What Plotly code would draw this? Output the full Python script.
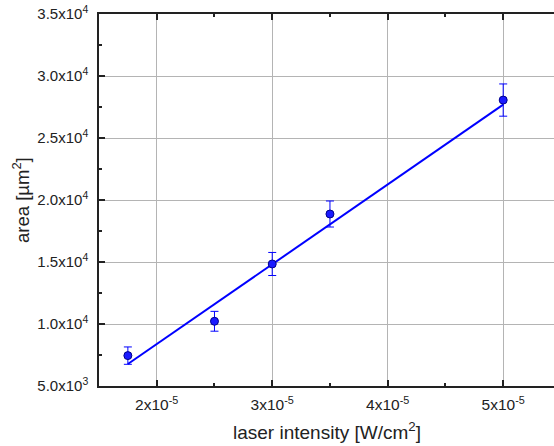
import plotly.graph_objects as go

# Data
intensity = [1.75e-5, 2.5e-5, 3.0e-5, 3.5e-5, 5.0e-5]
area = [7450, 10220, 14840, 18870, 28060]
area_err = [700, 800, 930, 1050, 1300]

fit_x = [1.75e-5, 5.0e-5]
fit_y = [6770, 27690]

x_tickvals = [2e-5, 3e-5, 4e-5, 5e-5]
x_ticktext = ["2x10<sup>-5</sup>", "3x10<sup>-5</sup>", "4x10<sup>-5</sup>", "5x10<sup>-5</sup>"]
y_tickvals = [5000, 10000, 15000, 20000, 25000, 30000, 35000]
y_ticktext = ["5.0x10<sup>3</sup>", "1.0x10<sup>4</sup>", "1.5x10<sup>4</sup>", "2.0x10<sup>4</sup>",
              "2.5x10<sup>4</sup>", "3.0x10<sup>4</sup>", "3.5x10<sup>4</sup>"]

x_title = "laser intensity [W/cm<sup>2</sup>]"
y_title = "area [µm<sup>2</sup>]"

fig = go.Figure()
fig.add_trace(go.Scatter(
    x=fit_x, y=fit_y, mode="lines",
    line=dict(color="#0000ff", width=2), showlegend=False, hoverinfo="skip"))
fig.add_trace(go.Scatter(
    x=intensity, y=area, mode="markers",
    marker=dict(color="#1a1aff", size=8, line=dict(color="#00008b", width=1)),
    error_y=dict(type="data", array=area_err, visible=True, color="#0000ff", thickness=1, width=4),
    showlegend=False))

font = "Liberation Sans, Arial, sans-serif"
fig.update_layout(
    width=554, height=446,
    margin=dict(l=99, r=0, t=14, b=60, autoexpand=False),
    paper_bgcolor="white", plot_bgcolor="white",
    font=dict(family=font, size=15, color="#222"),
    annotations=[
        dict(text=x_title, xref="paper", yref="paper", x=0.5, y=0, xanchor="center", yanchor="middle",
             yshift=-45, showarrow=False, font=dict(size=19, family=font, color="#222")),
        dict(text=y_title, xref="paper", yref="paper", x=0, y=0.5, xanchor="center", yanchor="middle",
             xshift=-78, textangle=-90, showarrow=False, font=dict(size=18.5, family=font, color="#222")),
    ],
)
fig.update_xaxes(
    range=[1.5e-5, 5.44e-5],
    tickvals=x_tickvals, ticktext=x_ticktext,
    tickfont=dict(size=15.5, family=font, color="#222"),
    ticks="inside", ticklen=6, tickwidth=1.5, tickcolor="#222",
    minor=dict(ticks="inside", ticklen=3, dtick=0.5e-5, tick0=1.5e-5, tickcolor="#222", showgrid=False),
    showline=True, linecolor="#222", linewidth=1.5, mirror="ticks",
    showgrid=True, gridcolor="#b4b4b4", gridwidth=1,
    zeroline=False, automargin=False, ticklabeloverflow="allow",
    ticklabelstandoff=4,
)
fig.update_yaxes(
    range=[5000, 35000],
    tickvals=y_tickvals, ticktext=y_ticktext,
    tickfont=dict(size=15, family=font, color="#222"),
    ticks="inside", ticklen=6, tickwidth=1.5, tickcolor="#222",
    minor=dict(ticks="inside", ticklen=3, dtick=2500, tick0=5000, tickcolor="#222", showgrid=False),
    showline=True, linecolor="#222", linewidth=1.5, mirror=False,
    showgrid=True, gridcolor="#b4b4b4", gridwidth=1,
    zeroline=False, automargin=False, ticklabeloverflow="allow",
    ticklabelstandoff=6,
)

# Remove the default 8px page margin so the figure sits at the window's top-left corner.
fig.write_html("out.html", config={"displayModeBar": False},
               post_script="document.body.style.margin='0';")
